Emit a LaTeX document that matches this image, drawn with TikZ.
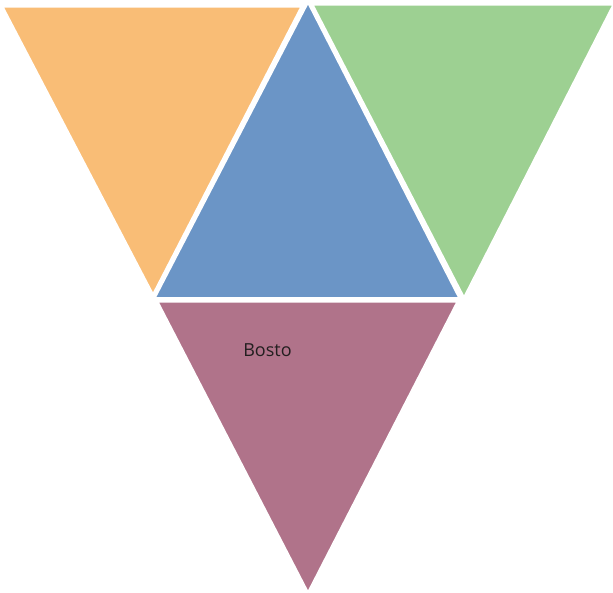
\documentclass[tikz,border=0pt]{standalone}
\usepackage{fontspec}
\setmainfont{Open Sans}
\definecolor{torange}{HTML}{F9BD76}
\definecolor{tblue}{HTML}{6B95C6}
\definecolor{tgreen}{HTML}{9DD092}
\definecolor{tpurple}{HTML}{B0738A}
\definecolor{ttext}{HTML}{231F20}
\begin{document}
\begin{tikzpicture}[x=1pt,y=-1pt,
  tri/.style={draw=white,line width=1.5pt,line join=miter}]
\useasboundingbox (0,0) rectangle (613,593);
\fill[white] (0,0) rectangle (613,593);
\filldraw[tri,fill=torange] (3,7) -- (301,7) -- (153,294) -- cycle;
\filldraw[tri,fill=tgreen] (313,5) -- (613,5) -- (464,297) -- cycle;
\filldraw[tri,fill=tblue] (308,3) -- (459,298) -- (155,298) -- cycle;
\filldraw[tri,fill=tpurple] (158,302) -- (457,302) -- (308,592) -- cycle;
\node[text=ttext,font=\fontsize{18}{21}\selectfont] (lbl) at (267.5,350) {Bosto};
\end{tikzpicture}
\end{document}
